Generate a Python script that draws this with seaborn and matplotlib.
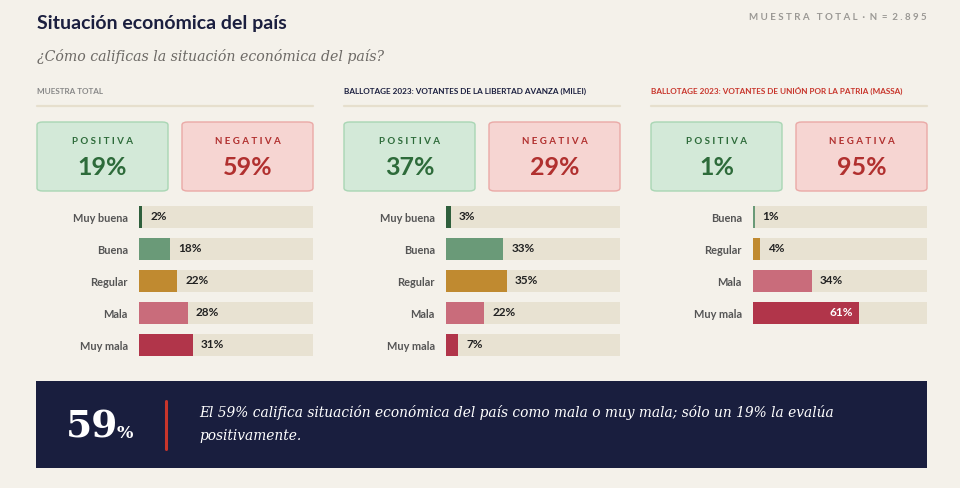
import matplotlib
matplotlib.use('Agg')
import matplotlib.pyplot as plt
import seaborn as sns
import pandas as pd
from matplotlib.patches import FancyBboxPatch, Rectangle
from matplotlib.lines import Line2D

# ── Data ───────────────────────────────────────────────────────
panel_titles = ["MUESTRA TOTAL",
                "BALLOTAGE 2023: VOTANTES DE LA LIBERTAD AVANZA (MILEI)",
                "BALLOTAGE 2023: VOTANTES DE UNIÓN POR LA PATRIA (MASSA)"]
cats_total = ["Muy buena", "Buena", "Regular", "Mala", "Muy mala"]
vals_total = [2, 18, 22, 28, 31]
cats_milei = ["Muy buena", "Buena", "Regular", "Mala", "Muy mala"]
vals_milei = [3, 33, 35, 22, 7]
cats_massa = ["Buena", "Regular", "Mala", "Muy mala"]
vals_massa = [1, 4, 34, 61]
positiva = [19, 37, 1]
negativa = [59, 29, 95]
headline = 59
headline_text = ("El 59% califica situación económica del país como mala o muy mala; sólo un 19% la evalúa\n"
                 "positivamente.")

# ── Style ──────────────────────────────────────────────────────
BG = "#f4f1ea"
NAVY = "#1b1f3f"
TRACK = "#e8e2d2"
palette = {"Muy buena": "#2f5f3c", "Buena": "#6a9a78", "Regular": "#c08a30",
           "Mala": "#c96c7b", "Muy mala": "#b1354a"}
title_colors = ["#888888", NAVY, "#c8352b"]
SANS = "Lato"
SERIF = "DejaVu Serif"

sns.set_theme(style="white")
plt.rcParams['font.family'] = [SANS, 'DejaVu Sans']

W, H = 960, 488
fig = plt.figure(figsize=(W / 100, H / 100), dpi=100, facecolor=BG)


def fx(x):
    return x / W


def fy(y):
    return 1 - y / H


def ftext(x, y, s, **kw):
    return fig.text(fx(x), fy(y), s, **kw)


# ── Header ─────────────────────────────────────────────────────
ftext(37, 24, "Situación económica del país", fontsize=14, fontweight="bold",
      color=NAVY, va="center")
ftext(37, 57, "¿Cómo calificas la situación económica del país?", fontsize=10.2,
      family=SERIF, style="italic", color="#6d6a66", va="center")
ftext(927, 17, "M U E S T R A   T O T A L  ·  N  =  2 . 8 9 5", fontsize=7,
      fontweight="bold", color="#9a9894", ha="right", va="center")

panels = [(cats_total, vals_total), (cats_milei, vals_milei), (cats_massa, vals_massa)]
ROW = 32
for i, (cats, vals) in enumerate(panels):
    x0 = 37 + 307 * i
    ftext(x0, 91, panel_titles[i], fontsize=5.9, fontweight="bold",
          color=title_colors[i], va="center")
    fig.add_artist(Line2D([fx(x0), fx(x0 + 276)], [fy(106), fy(106)],
                          color="#e6dfcd", lw=1.6))

    # summary boxes
    for j, (lab, val, fc, ec, tc) in enumerate([
            ("P O S I T I V A", positiva[i], "#d3e9d8", "#a9d6b4", "#2d6b3a"),
            ("N E G A T I V A", negativa[i], "#f6d5d2", "#eaa9a6", "#b1302f")]):
        bx = x0 + 145 * j
        fig.add_artist(FancyBboxPatch((fx(bx), fy(191)), fx(131), 69 / H,
                                      boxstyle="round,pad=0,rounding_size=0.006",
                                      transform=fig.transFigure, fc=fc, ec=ec, lw=1))
        ftext(bx + 65.5, 141, lab, fontsize=7, fontweight="bold", color=tc,
              ha="center", va="center")
        ftext(bx + 65.5, 168, f"{val}%", fontsize=18, fontweight="bold", color=tc,
              ha="center", va="center")

    # bars
    n = len(cats)
    tx = x0 + 102
    ax = fig.add_axes([fx(tx), fy(201 + ROW * n), fx(174), ROW * n / H])
    df = pd.DataFrame({"cat": cats, "val": vals, "track": [100] * n})
    sns.barplot(data=df, x="track", y="cat", color=TRACK, width=0.69,
                saturation=1, linewidth=0, ax=ax)
    sns.barplot(data=df, x="val", y="cat", hue="cat", palette=palette, width=0.69,
                saturation=1, linewidth=0, legend=False, ax=ax)
    ax.set_xlim(0, 100)
    ax.set_ylim(n - 0.5, -0.5)
    ax.set_facecolor("none")
    ax.set_xlabel("")
    ax.set_ylabel("")
    ax.set_xticks([])
    sns.despine(ax=ax, left=True, bottom=True)
    ax.tick_params(axis="y", length=0, pad=8, labelsize=7.9, labelcolor="#555555")
    for t in ax.get_yticklabels():
        t.set_fontweight("bold")
    for k, v in enumerate(vals):
        if v >= 50:
            ax.text(v - 3.5, k, f"{v}%", color="white", fontsize=8.5, fontweight="bold",
                    ha="right", va="center")
        else:
            ax.text(v + 4.5, k, f"{v}%", color="#222222", fontsize=8.5, fontweight="bold",
                    ha="left", va="center")

# ── Bottom callout ─────────────────────────────────────────────
fig.add_artist(Rectangle((fx(36), fy(468)), fx(891), 87 / H, transform=fig.transFigure,
                         fc="#191e3e", ec="none"))
ftext(66, 438, f"{headline}", fontsize=27, family=SERIF, fontweight="bold",
      color="white", va="baseline")
ftext(117, 438, "%", fontsize=12.5, family=SERIF, fontweight="bold",
      color="white", va="baseline")
fig.add_artist(Line2D([fx(166), fx(166)], [fy(401), fy(449)], color="#c8352b", lw=2.2))
ftext(199, 424, headline_text, fontsize=9.9, family=SERIF, style="italic",
      color="white", va="center", linespacing=1.8)

fig.savefig("out.png", dpi=100, facecolor=BG)
